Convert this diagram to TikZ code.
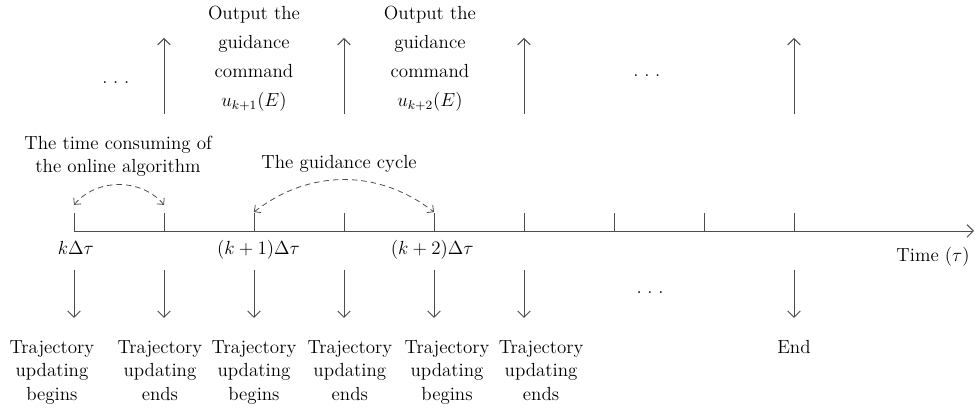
\documentclass[tikz,border=0pt]{standalone}
\usetikzlibrary{arrows.meta}
\begin{document}
\begin{tikzpicture}[
    every node/.style={inner sep=0pt, font=\fontsize{12}{14.85}\selectfont},
    axisline/.style={line width=0.6pt, color=black!70},
    cmdarrow/.style={-{Straight Barb[length=4pt,width=8pt]}, line width=0.6pt, color=black!70},
    downarrow/.style={-{Straight Barb[length=4pt,width=8pt]}, line width=0.6pt, color=black!70, shorten >=0.487cm},
    cyclearc/.style={{Straight Barb[length=3pt,width=6pt]}-{Straight Barb[length=3pt,width=6pt]}, dash pattern=on 3.5pt off 2.5pt, line width=0.5pt, color=black!70}
]
    \useasboundingbox (-1.644,-4.089) rectangle (20.067,5.133);

    % time axis and ticks
    \coordinate (start) at (0,0);
    \coordinate (stop) at (20,0);
    \draw[axisline, -{Straight Barb[length=4pt,width=8pt]}] (start) -- (stop);
    \draw[axisline] (0,0) -- (0,0.4);
    \draw[axisline] (2,0) -- (2,0.4);
    \draw[axisline] (4,0) -- (4,0.4);
    \draw[axisline] (6,0) -- (6,0.4);
    \draw[axisline] (8,0) -- (8,0.4);
    \draw[axisline] (10,0) -- (10,0.4);
    \draw[axisline] (12,0) -- (12,0.4);
    \draw[axisline] (14,0) -- (14,0.4);
    \draw[axisline] (16,0) -- (16,0.4);

    \node[anchor=base] (t0) at (0.04,-0.53) {$k\Delta\tau$};
    \node[anchor=base] (t1) at (4.1,-0.53) {$(k+1)\Delta\tau$};
    \node[anchor=base] (t2) at (7.96,-0.53) {$(k+2)\Delta\tau$};
    \node[anchor=base east] (time) at (19.91,-0.67) {Time $(\tau)$};

    % time consuming and guidance cycle
    \coordinate (c0) at (0,0.58);
    \coordinate (c1) at (2,0.58);
    \draw[cyclearc] (c0) to[bend left=50] (c1);
    \node[anchor=north, align=center, font=\fontsize{12}{14.2}\selectfont] (consume) at (0.98,2.11) {The time consuming of\\the online algorithm};
    \coordinate (g0) at (4,0.42);
    \coordinate (g1) at (8,0.42);
    \draw[cyclearc] (g0) to[bend left=38] (g1);
    \node[anchor=north] (cycle) at (5.89,1.69) {The guidance cycle};

    % guidance command output
    \coordinate (u1) at (2,2.6);
    \coordinate (v1) at (2,4.29);
    \coordinate (u2) at (6,2.6);
    \coordinate (v2) at (6,4.29);
    \coordinate (u3) at (10,2.6);
    \coordinate (v3) at (10,4.29);
    \coordinate (u4) at (16,2.6);
    \coordinate (v4) at (16,4.29);
    \draw[cmdarrow] (u1) -- (v1);
    \draw[cmdarrow] (u2) -- (v2);
    \draw[cmdarrow] (u3) -- (v3);
    \draw[cmdarrow] (u4) -- (v4);
    \node[anchor=base] (dotsa) at (0.93,3.27) {.\hspace{0.3em}.\hspace{0.3em}.};
    \node[anchor=base] (dotsb) at (12.73,3.44) {.\hspace{0.3em}.\hspace{0.3em}.};
    \node[anchor=north, align=center, font=\fontsize{12}{18.3}\selectfont] (out1) at (4,5.0) {Output the\\guidance\\command\\$u_{k+1}(E)$};
    \node[anchor=north, align=center, font=\fontsize{12}{18.3}\selectfont] (out2) at (7.91,5.0) {Output the\\guidance\\command\\$u_{k+2}(E)$};

    % trajectory updating
    \node[anchor=north, align=center] (b0) at (-0.49,-2.42) {Trajectory\\updating\\begins};
    \node[anchor=north, align=center] (b1) at (1.91,-2.42) {Trajectory\\updating\\ends};
    \node[anchor=north, align=center] (b2) at (4.0,-2.42) {Trajectory\\updating\\begins};
    \node[anchor=north, align=center] (b3) at (6.13,-2.42) {Trajectory\\updating\\ends};
    \node[anchor=north, align=center] (b4) at (8.29,-2.42) {Trajectory\\updating\\begins};
    \node[anchor=north, align=center] (b5) at (10.38,-2.42) {Trajectory\\updating\\ends};
    \node[anchor=north] (bend) at (16,-2.42) {End};
    \node[anchor=base] (dotsc) at (12.8,-1.38) {.\hspace{0.3em}.\hspace{0.3em}.};

    \coordinate (d0) at (0,-0.867);
    \coordinate (d1) at (2,-0.867);
    \coordinate (d2) at (4,-0.867);
    \coordinate (d3) at (6,-0.867);
    \coordinate (d4) at (8,-0.867);
    \coordinate (d5) at (10,-0.867);
    \coordinate (d6) at (16,-0.867);
    \draw[downarrow] (d0) -- (d0 |- b0.north);
    \draw[downarrow] (d1) -- (d1 |- b1.north);
    \draw[downarrow] (d2) -- (d2 |- b2.north);
    \draw[downarrow] (d3) -- (d3 |- b3.north);
    \draw[downarrow] (d4) -- (d4 |- b4.north);
    \draw[downarrow] (d5) -- (d5 |- b5.north);
    \draw[downarrow] (d6) -- (d6 |- bend.north);
\end{tikzpicture}
\end{document}
